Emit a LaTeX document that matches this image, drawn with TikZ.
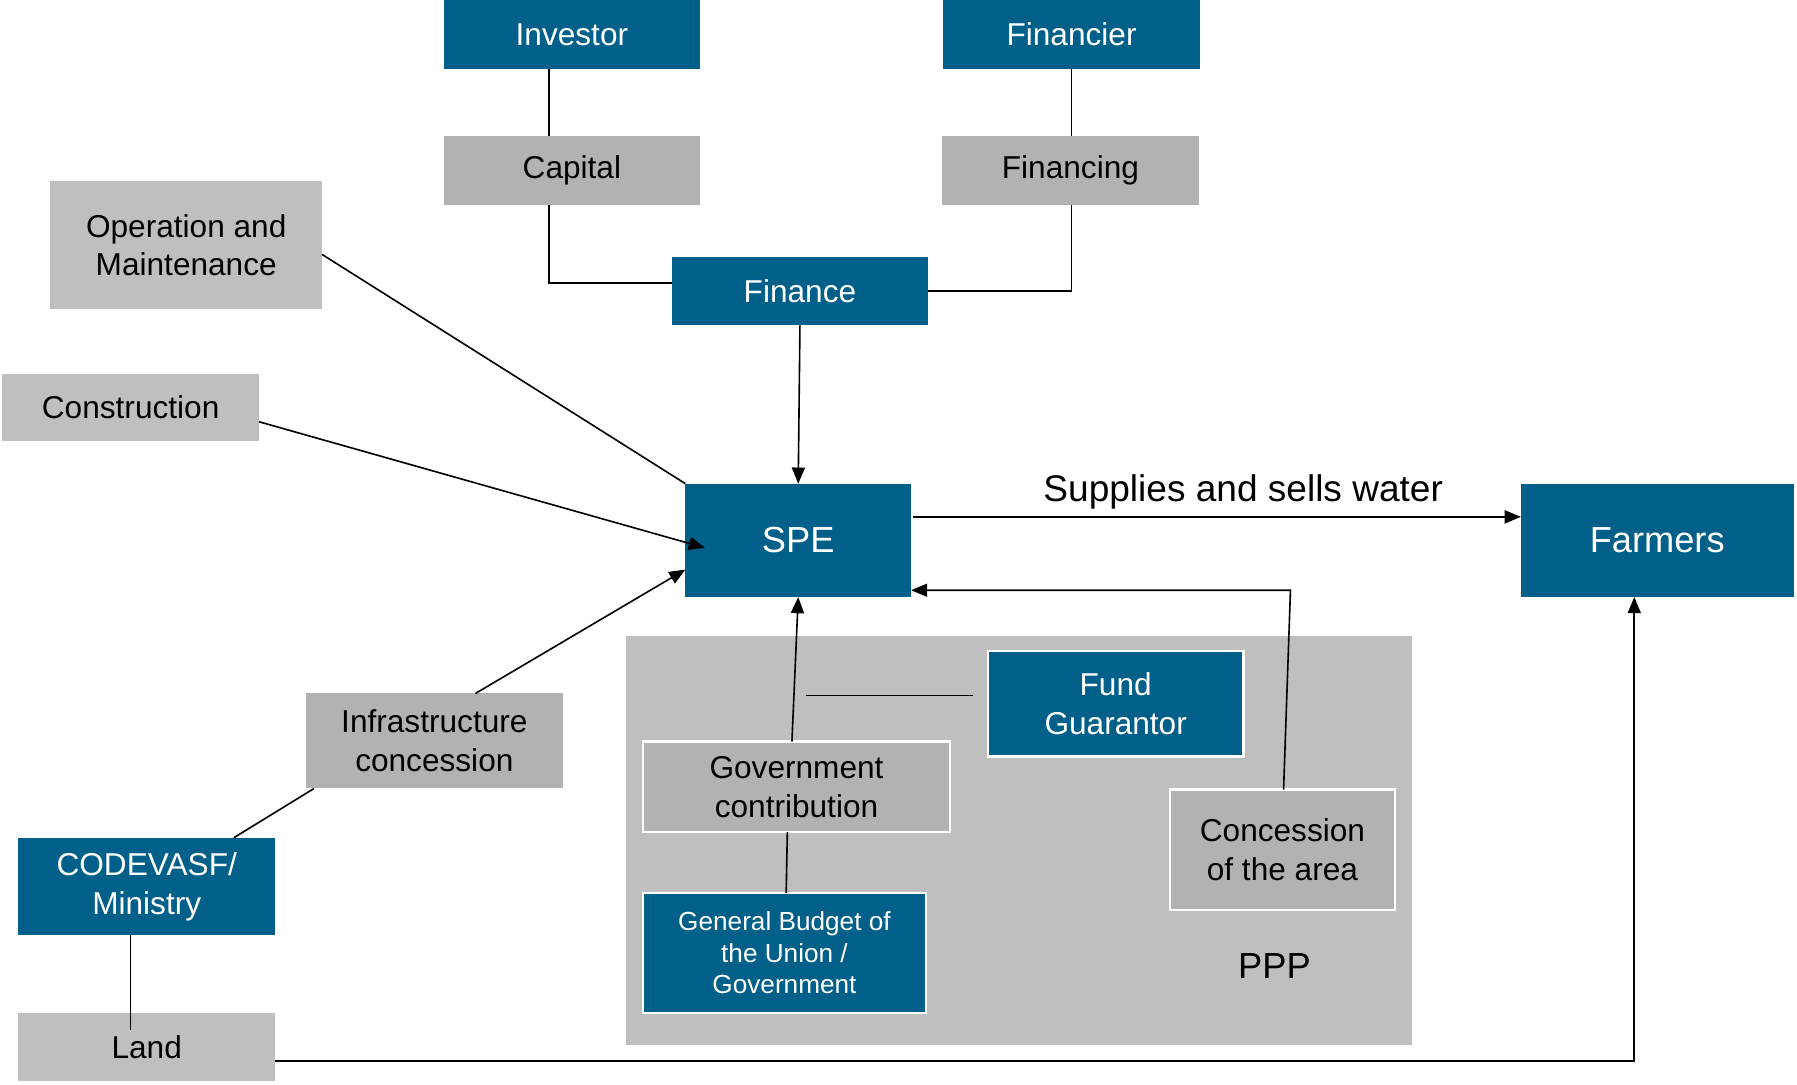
\documentclass[tikz,border=0pt]{standalone}
\usepackage{fontspec}
\setmainfont{Liberation Sans}
\usetikzlibrary{arrows.meta,calc}
\definecolor{bblue}{RGB}{0,96,137}
\definecolor{gdark}{RGB}{178,178,178}
\definecolor{glight}{RGB}{191,191,191}
\tikzset{
  sz/.style 2 args={minimum width=#1*0.02cm, minimum height=#2*0.02cm},
  basebox/.style={inner sep=0pt, outer sep=0pt, align=center, font=\fontsize{15.7}{19.3}\selectfont},
  bluebox/.style={basebox, fill=bblue, text=white},
  graybox/.style={basebox, fill=gdark, text=black},
  lightbox/.style={basebox, fill=glight, text=black},
  wb/.style={draw=white, line width=1.2pt},
  conn/.style={draw=black, line width=0.8pt},
  arr/.style={conn, -{Triangle[length=8pt,width=6.5pt]}},
  bigfont/.style={font=\fontsize{18}{21.6}\selectfont},
}
\begin{document}
\begin{tikzpicture}[x=0.02cm, y=-0.02cm]
\useasboundingbox (0,0) rectangle (1568,946);
% PPP region
\fill[glight] (546,555) rectangle (1232,912);
\node[bigfont] (ppp) at (1112,843) {PPP};

% top
\node[bluebox, sz={224}{60}] (inv) at (499,30) {Investor};
\node[bluebox, sz={224}{60}] (fin) at (935,30) {Financier};
\node[graybox, sz={224}{60}] (cap) at (499,149) {Capital};
\node[graybox, sz={224}{60}] (fing) at (934,149) {Financing};
\node[bluebox, sz={224}{60}] (fnc) at (698,254) {Finance};

% left
\node[lightbox, sz={237}{112}] (om) at (162.5,214) {Operation and\\Maintenance};
\node[lightbox, sz={224}{59}] (con) at (114,355.5) {Construction};
\node[graybox, sz={224}{83}] (infra) at (379,646.5) {Infrastructure\\concession};
\node[bluebox, sz={224}{85}] (cod) at (128,773.5) {CODEVASF/\\Ministry};
\node[lightbox, sz={224}{59}] (land) at (128,913.5) {Land};

% center
\node[bluebox, bigfont, sz={197}{99}] (spe) at (696.5,471.5) {SPE};
\node[bluebox, bigfont, sz={238}{99}] (farm) at (1446,471.5) {Farmers};

% PPP boxes
\node[bluebox, wb, sz={223}{92}] (fg) at (973.5,614) {Fund\\Guarantor};
\node[graybox, wb, sz={268}{79}] (gc) at (695,686.5) {Government\\contribution};
\node[bluebox, wb, sz={247}{105}, font=\fontsize{13}{15.6}\selectfont] (gb) at (684.5,831.5) {General Budget of\\the Union /\\Government};
\node[graybox, wb, sz={196}{105}] (ca) at (1119,741.5) {Concession\\of the area};

% connectors
\draw[conn] ($(inv.south)+(-20,0)$) -- ($(cap.north)+(-20,0)$);
\draw[conn] (fin.south) -- ($(fing.north)+(1,0)$);
\draw[conn] ($(cap.south)+(-20,0)$) |- ($(fnc.west)+(0,-7)$);
\draw[conn] ($(fing.south)+(1,0)$) |- (fnc.east);
\draw[arr] (fnc.south) -- (spe.north);
\draw[conn] ($(om.east)+(0,8)$) -- (spe.north west);
\draw[arr] ($(con.east)+(0,12.5)$) -- ($(spe.west)+(17,6.5)$);
\draw[arr] ($(infra.north)+(36,0)$) -- ($(spe.west)+(0,25.5)$);
\draw[conn] ($(cod.north)+(76,0)$) -- ($(infra.south west)+(7,0)$);
\draw[conn] ($(cod.south)+(-14,0)$) -- ($(land.north)+(-14,15)$);
\draw[arr] ($(land.east)+(0,12.5)$) -| ($(farm.south)+(-20,0)$);
\draw[arr] ($(spe.east)+(2,-20.5)$) -- node[pos=0.543, above, font=\fontsize{18.4}{22}\selectfont] (lbl) {Supplies and sells water} ($(farm.west)+(0,-20.5)$);
\draw[arr] ($(gc.north)+(-4,0)$) -- (spe.south);
\coordinate (hl1) at ($(fg.west)+(-13,-7)$);
\coordinate (hl2) at ($(fg.west)+(-159,-7)$);
\draw[conn] (hl1) -- (hl2);
\draw[conn] ($(gb.north)+(1.5,0)$) -- ($(gc.south)+(-8,0)$);
\draw[arr] ($(ca.north)+(1,0)$) -- ($(ca.north)+(7,-174)$) -- ($(spe.east)+(0,43.5)$);
\end{tikzpicture}
\end{document}
